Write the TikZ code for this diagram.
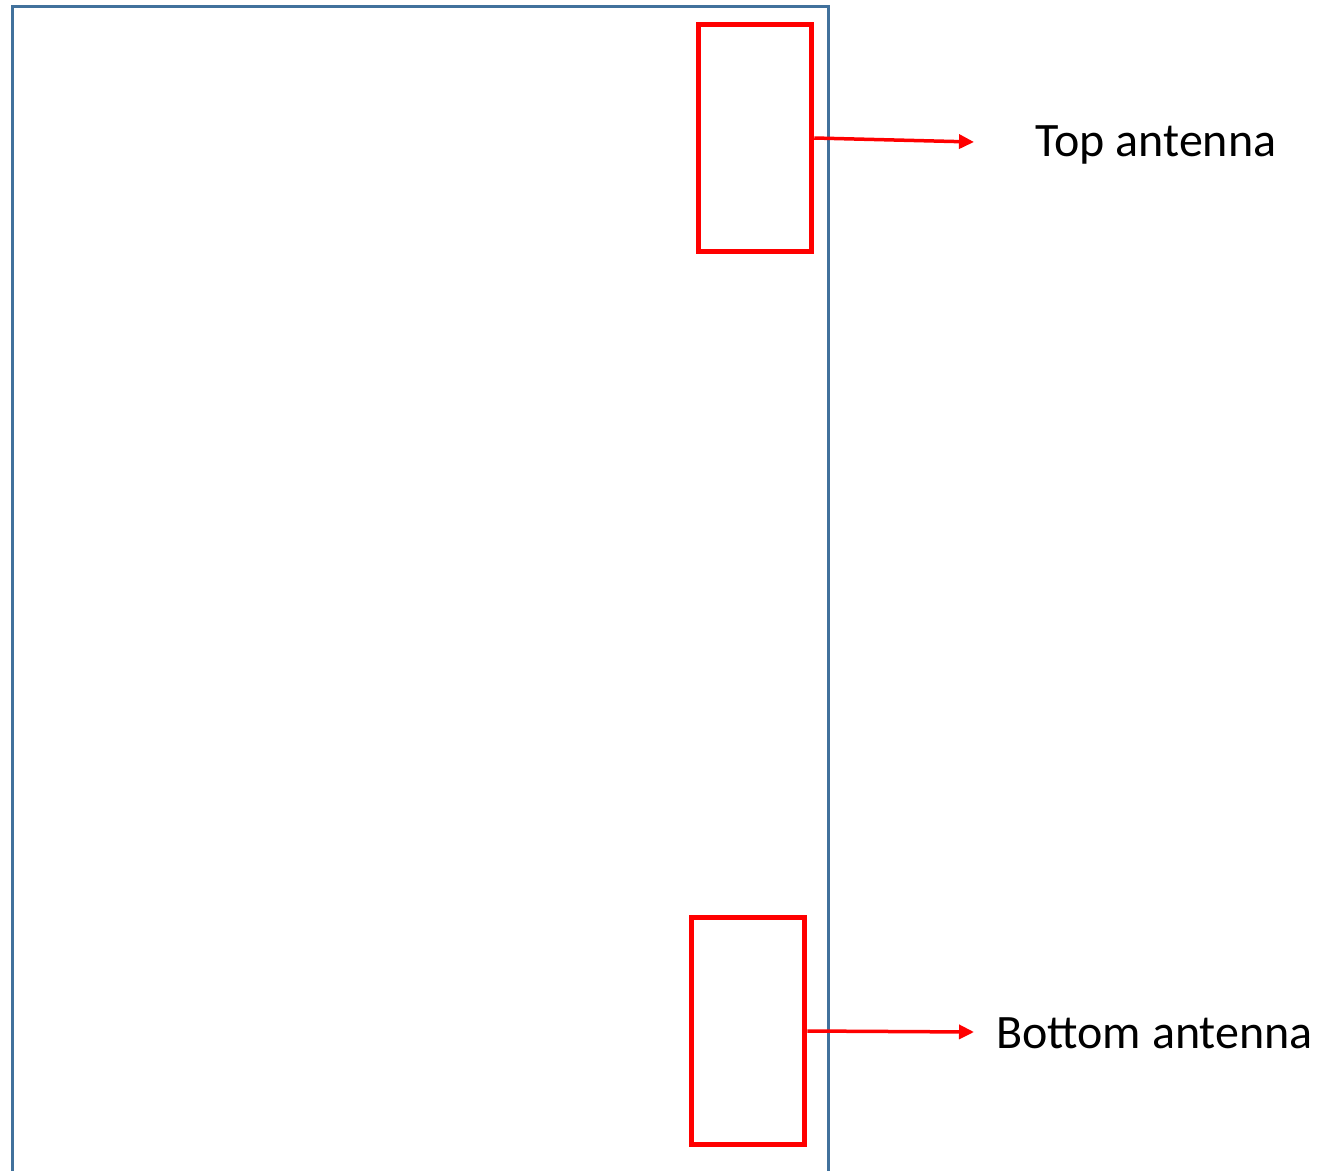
\documentclass[tikz,border=0pt]{standalone}
\usepackage{fontspec}
\setmainfont{Carlito}
\usetikzlibrary{arrows.meta}
\definecolor{phoneblue}{RGB}{65,113,156}
\tikzset{
  antenna/.style={draw=red, line width=5.5pt, minimum width=113pt, minimum height=227pt, inner sep=0pt},
  feed/.style={red, line width=3.5pt, -{Triangle[length=15pt,width=14pt]}},
  label/.style={inner sep=0pt, font=\fontsize{48}{58}\selectfont}
}
\begin{document}
\begin{tikzpicture}[x=1pt,y=-1pt]
        \useasboundingbox (0,0) rectangle (1322,1170);
        % phone outline, open at the bottom
        \draw[phoneblue, line width=3pt] (12,1172) -- (12,6) -- (828,6) -- (828,1172);

        \node[antenna] (top) at (755,138) {};
        \node[antenna] (bottom) at (748,1031) {};

        \coordinate (toptip) at (974,142);
        \coordinate (bottomtip) at (974,1032);
        \draw[feed] (top.east) -- (toptip);
        \draw[feed] (bottom.east) -- (bottomtip);

        \node[label, anchor=base west] (toplabel) at (1035,156) {Top antenna};
        \node[label, anchor=base west] (bottomlabel) at (996,1048) {Bottom antenna};
    \end{tikzpicture}
\end{document}
